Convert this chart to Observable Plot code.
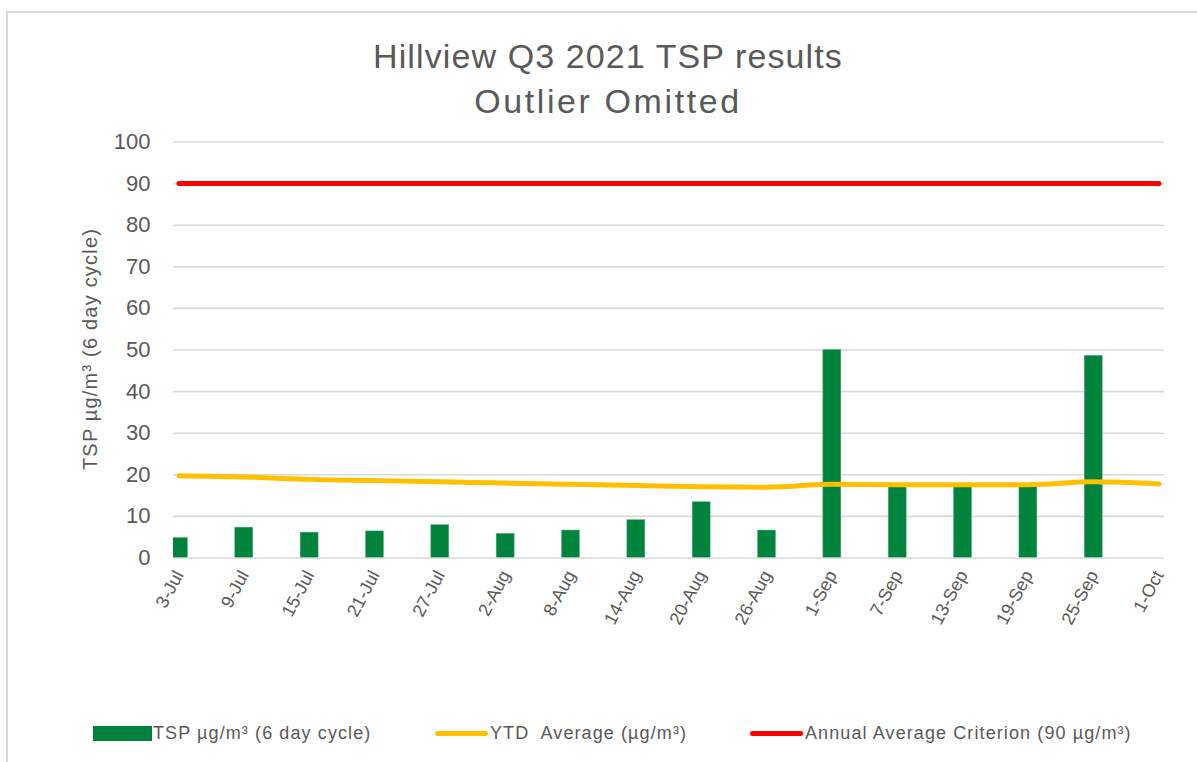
<!DOCTYPE html>
<html>
<head>
<meta charset="utf-8">
<script src="https://cdn.jsdelivr.net/npm/d3@7"></script>
<script src="https://cdn.jsdelivr.net/npm/@observablehq/plot@0.6"></script>
<style>
  html, body { margin: 0; padding: 0; background: #fff; }
  body { width: 1197px; height: 762px; position: relative; overflow: hidden; font-family: "Liberation Sans", Arial, sans-serif; color: #595959; }
  #frame { position: absolute; left: 6px; top: 11px; width: 1300px; height: 900px; border-left: 2px solid #d9d9d9; border-top: 2px solid #d9d9d9; }
  #chart { position: absolute; left: 0; top: 0; }
  .title { position: absolute; left: 0; width: 1216px; text-align: center; font-size: 34px; color: #595959; white-space: nowrap; }
  #ylab { position: absolute; left: 90px; top: 349px; transform: translate(-50%, -50%) rotate(-90deg); font-size: 20px; letter-spacing: 1.2px; white-space: nowrap; color: #595959; }
  .leg { position: absolute; top: 722px; font-size: 18px; letter-spacing: 1.1px; color: #595959; white-space: nowrap; display: flex; align-items: center; height: 22px; }
  .sw-bar { width: 59px; height: 15px; background: #00843d; display: inline-block; margin-right: 1px; }
  .sw-line { width: 53px; height: 5px; border-radius: 3px; display: inline-block; margin-right: 2px; }
</style>
</head>
<body>
<div id="frame"></div>
<div id="chart"></div>
<div class="title" style="top:37px; letter-spacing:1.1px">Hillview Q3 2021 TSP results</div>
<div class="title" style="top:82px; letter-spacing:2.6px">Outlier Omitted</div>
<div id="ylab">TSP µg/m³ (6 day cycle)</div>
<div class="leg" style="left:93px"><span class="sw-bar"></span><span>TSP µg/m³ (6 day cycle)</span></div>
<div class="leg" style="left:435px"><span class="sw-line" style="background:#ffc000"></span><span>YTD&nbsp; Average (µg/m³)</span></div>
<div class="leg" style="left:750px"><span class="sw-line" style="background:#ff0000"></span><span>Annual Average Criterion (90 µg/m³)</span></div>
<script>
const dates = ["2021-07-03","2021-07-09","2021-07-15","2021-07-21","2021-07-27","2021-08-02","2021-08-08","2021-08-14","2021-08-20","2021-08-26","2021-09-01","2021-09-07","2021-09-13","2021-09-19","2021-09-25","2021-10-01"];
const labels = ["3-Jul","9-Jul","15-Jul","21-Jul","27-Jul","2-Aug","8-Aug","14-Aug","20-Aug","26-Aug","1-Sep","7-Sep","13-Sep","19-Sep","25-Sep","1-Oct"];
const tsp = [4.8, 7.3, 6.1, 6.4, 7.9, 5.8, 6.6, 9.1, 13.4, 6.6, 50.0, 17.3, 17.3, 17.3, 48.6, null];
const ytd = [19.8, 19.5, 18.9, 18.6, 18.3, 18.0, 17.7, 17.4, 17.1, 17.0, 17.7, 17.6, 17.6, 17.6, 18.3, 17.8];
const criterion = [90, 90, 90, 90, 90, 90, 90, 90, 90, 90, 90, 90, 90, 90, 90, 90];
const yTicks = [0, 10, 20, 30, 40, 50, 60, 70, 80, 90, 100];
const axisStart = "2021-07-03";
const axisEnd = "2021-10-02";

const DAY = 864e5;
const data = dates.map((d, i) => {
  const t = new Date(d + "T00:00:00Z").getTime();
  return {
    mid: new Date(t + DAY / 2),
    x1: new Date(t + DAY / 2 - 0.825 * DAY),
    x2: new Date(t + DAY / 2 + 0.825 * DAY),
    label: labels[i], tsp: tsp[i], ytd: ytd[i], crit: criterion[i]
  };
});
const labelByTime = new Map(data.map(d => [d.mid.getTime(), d.label]));

const chart = Plot.plot({
  width: 1197,
  height: 700,
  marginLeft: 173,
  marginRight: 33,
  marginTop: 141.5,
  marginBottom: 142.5,
  style: { fontFamily: "'Liberation Sans', Arial, sans-serif", color: "#595959", background: "transparent" },
  x: { type: "utc", domain: [new Date(axisStart + "T00:00:00Z"), new Date(axisEnd + "T00:00:00Z")] },
  y: { domain: [0, 100] },
  marks: [
    Plot.ruleY(yTicks, { stroke: "#d9d9d9", strokeWidth: 1.6 }),
    Plot.rectY(data, { filter: d => d.tsp != null, x1: "x1", x2: "x2", y1: 0, y2: "tsp", fill: "#00843d", stroke: "#5fb07f", strokeWidth: 0.5, clip: true }),
    Plot.lineY(data, { x: "mid", y: "ytd", stroke: "#ffc000", strokeWidth: 5, strokeLinecap: "round", curve: "monotone-x" }),
    Plot.lineY(data, { x: "mid", y: "crit", stroke: "#ff0000", strokeWidth: 5, strokeLinecap: "round" }),
    Plot.axisY({ ticks: yTicks, tickSize: 0, tickPadding: 23, fontSize: 22, label: null }),
    Plot.axisX({ ticks: data.map(d => d.mid), tickFormat: d => labelByTime.get(d.getTime()), tickRotate: -62, tickSize: 0, tickPadding: 14, fontSize: 18, label: null })
  ]
});
document.getElementById("chart").appendChild(chart);
</script>
</body>
</html>
